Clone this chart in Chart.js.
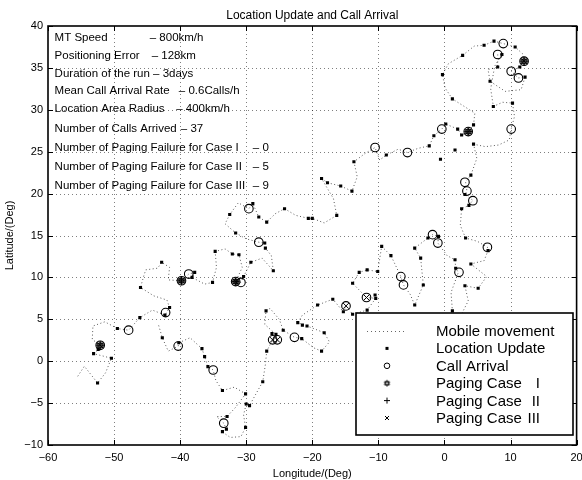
<!DOCTYPE html>
<html><head><meta charset="utf-8">
<script src="https://cdn.jsdelivr.net/npm/chart.js@4/dist/chart.umd.min.js"></script>
<style>html,body{margin:0;padding:0;background:#fff}canvas{display:block}</style>
</head><body>
<canvas id="c" width="582" height="480"></canvas>
<script>
const xTicks=[-60,-50,-40,-30,-20,-10,0,10,20];
const yTicks=[-10,-5,0,5,10,15,20,25,30,35,40];

// Mobile movement path
const moveLon=[-55.5,-54.5,-53.5,-52.5,-51.3,-50.4,-51.6,-53.1,-52.4,-52.1,-53.3,-53.2,-51.4,-49.5,-47.8,-46.1,-44.2,-42.3,-41.6,-42.0,-44.0,-46.0,-45.5,-45.2,-43.4,-42.8,-41.6,-41.8,-39.8,-38.7,-37.8,-38.2,-36.3,-35.1,-34.5,-34.7,-33.2,-32.1,-31.1,-30.6,-31.6,-30.8,-30.4,-29.3,-27.6,-25.9,-26.2,-27.1,-27.2,-28.1,-30.0,-31.6,-33.2,-32.5,-31.2,-29.6,-29.0,-28.1,-26.9,-25.6,-24.2,-22.5,-20.6,-20.0,-18.2,-16.3,-16.8,-18.6,-17.7,-15.7,-14.0,-13.2,-13.7,-12.0,-10.5,-9.8,-8.8,-7.0,-5.6,-4.0,-2.3,-1.6,-0.4,0.2,2.0,2.6,3.6,4.4,4.6,3.0,1.2,0.1,-0.3,0.6,2.75,4.5,6.0,7.5,8.9,10.7,11.8,12.05,11.4,10.1,11.2,12.2,11.6,9.2,6.9,6.6,8.06,8.06,8.7,7.6,7.0,7.4,8.8,10.3,10.6,10.1,9.8,8.2,6.2,4.4,4.9,4.0,3.2,3.4,3.1,4.3,3.7,2.6,2.4,3.2,5.0,6.5,6.6,6.0,4.0,6.4,5.1,3.1,3.6,2.2,1.2,1.0,2.1,1.7,1.6,0.4,-1.0,-0.9,-1.8,-2.5,-4.5,-3.6,-3.2,-4.5,-5.2,-6.2,-6.6,-8.1,-9.5,-10.1,-11.7,-12.9,-13.9,-11.8,-10.4,-11.7,-13.9,-14.9,-15.3,-16.9,-19.2,-21.5,-22.2,-20.8,-18.2,-17.4,-18.6,-19.8,-21.6,-22.7,-24.4,-25.0,-26.4,-27.0,-27.2,-25.5,-25.3,-26.0,-26.9,-27.1,-27.5,-28.6,-29.5,-30.0,-30.4,-30.1,-30.8,-32.4,-33.7,-33.0,-33.4,-34.5,-32.9,-31.6,-30.1,-31.8,-33.6,-34.6,-35.0,-35.8,-36.3,-36.7,-38.5,-40.2,-40.3,-41.8,-42.7,-43.3];
const moveLat=[-1.8,-0.6,-1.6,-2.6,-1.4,0.35,0.6,0.9,1.4,1.9,2.6,4.2,4.7,3.9,3.7,5.2,6.1,5.5,6.4,7.3,7.8,8.8,10.2,10.9,11.1,11.8,11.2,9.7,9.6,10.4,10.6,10.0,9.2,9.4,11.2,13.1,13.4,12.8,12.7,11.2,9.5,9.4,10.1,11.8,12.3,10.8,12.6,13.5,14.1,14.2,14.6,15.3,16.4,17.5,18.9,18.2,18.8,17.2,16.6,17.6,18.2,17.4,17.05,17.05,16.5,17.4,19.4,21.8,21.3,20.9,20.3,22.0,23.8,24.8,25.5,24.0,24.6,25.3,24.9,25.4,25.7,26.9,27.7,28.3,27.7,27.0,27.4,28.2,29.6,30.4,31.3,32.6,34.2,35.5,36.5,37.6,37.7,38.2,37.9,37.5,36.7,35.8,35.1,34.6,33.8,33.9,32.4,32.2,33.4,34.8,35.1,36.6,36.6,35.2,32.5,30.4,30.9,30.8,29.2,27.7,26.4,25.8,25.6,25.9,24.2,22.2,21.4,20.3,19.9,19.2,18.6,18.2,16.2,14.7,14.3,13.6,13.2,12.0,11.6,10.1,8.7,9.0,7.2,5.0,6.0,8.2,10.6,11.1,12.1,12.6,14.1,14.9,15.1,14.7,13.5,12.3,9.1,6.7,8.0,9.1,10.1,12.6,13.7,10.7,10.9,10.6,9.3,7.6,7.5,6.1,5.6,6.6,5.9,7.4,6.7,5.5,4.6,4.2,3.4,2.3,1.2,1.6,2.7,2.85,3.7,5.0,6.3,6.0,4.4,3.2,2.55,2.55,1.2,-0.4,-2.45,-4.0,-5.3,-5.1,-6.4,-7.9,-9.0,-9.1,-8.4,-8.1,-7.4,-6.6,-6.6,-5.5,-3.9,-3.1,-3.5,-2.3,-1.05,-0.65,0.55,1.5,2.8,2.2,1.8,1.2,2.8,4.4];

// Location updates
const updLon=[7.5,6.0,10.7,2.75,8.7,8.06,11.4,6.9,12.2,-0.3,1.2,7.4,10.3,0.2,2.0,2.6,4.4,4.4,1.6,-1.6,-2.3,-0.6,-8.8,-13.7,-18.6,-17.7,-15.7,-14.0,-24.2,-20.6,-20.0,-16.3,4.0,3.1,3.7,2.6,3.2,6.6,4.0,5.1,3.1,-0.9,-2.5,-4.5,-9.5,-8.1,-3.6,1.6,1.7,-3.2,-10.1,-11.7,-12.9,-13.9,-10.5,-10.4,-16.9,-15.3,-13.9,-19.2,-11.7,-4.5,1.2,-22.2,-21.5,-20.8,-24.4,-18.2,-21.6,-18.6,-25.5,-26.1,-29.0,-32.5,-28.1,-26.9,-31.6,-27.2,-27.1,-32.1,-31.1,-34.7,-25.9,-29.3,-30.4,-42.8,-37.8,-38.2,-35.1,-46.0,-41.6,-42.3,-46.1,-49.5,-53.1,-52.4,-50.4,-52.5,-40.2,-42.7,-36.7,-36.3,-35.8,-33.6,-32.9,-33.6,-33.0,-30.1,-30.1,-30.0,-29.5,-27.5,-26.9,-27.0];
const updLat=[38.2,37.7,37.5,36.5,36.6,35.1,35.1,33.4,33.9,34.2,31.3,30.4,30.8,28.3,27.7,27.0,28.2,25.9,25.2,26.9,25.7,24.1,24.6,23.8,21.8,21.3,20.9,20.3,18.2,17.05,17.05,17.4,22.2,19.9,18.6,18.2,14.7,13.2,11.6,8.7,9.0,14.9,14.7,13.5,13.7,12.6,12.3,12.1,11.1,9.1,10.7,10.9,10.6,9.3,7.9,7.5,7.4,5.9,5.6,6.7,6.1,6.7,6.0,4.6,4.3,4.2,3.7,3.4,2.7,1.2,3.2,3.3,18.8,17.5,17.2,16.6,15.3,14.1,13.5,12.8,12.7,13.1,10.8,11.8,10.1,11.8,10.6,10.0,9.4,8.8,6.4,5.5,5.2,3.9,0.9,1.4,0.35,-2.6,2.2,2.8,1.5,0.55,-0.65,-3.5,-6.6,-8.4,-8.1,-7.9,-3.9,-5.1,-5.3,-2.45,1.2,6.0];

// Call arrivals
const callLon=[8.9,8.06,12.05,10.1,11.2,-0.4,3.6,10.1,-10.5,-5.6,3.1,3.4,4.3,-1.8,-1.0,6.5,2.2,-6.6,-6.2,-11.8,-14.9,-22.7,-26.0,-25.3,-29.6,-28.1,-31.6,-30.8,-39.8,-38.7,-42.2,-47.8,-52.1,-40.3,-35.0,-33.4];
const callLat=[37.9,36.6,35.8,34.6,33.8,27.7,27.4,27.7,25.5,24.9,21.35,20.3,19.15,15.1,14.1,13.6,10.6,10.1,9.1,7.6,6.6,2.85,2.55,2.55,18.2,14.2,9.5,9.4,9.6,10.4,5.8,3.7,1.9,1.8,-1.05,-7.4];

// Paging markers
const case1Lon=[12.05,3.6,-31.6,-39.8,-52.1];
const case1Lat=[35.8,27.4,9.5,9.6,1.9];
const case2Lon=[12.05,3.6,-31.6,-39.8,-52.1];
const case2Lat=[35.8,27.4,9.5,9.6,1.9];
const case3Lon=[12.05,3.6,-31.6,-39.8,-52.1,-26.0,-25.3,-11.8,-14.9];
const case3Lat=[35.8,27.4,9.5,9.6,1.9,2.55,2.55,7.6,6.6];

const noteLines=[
 {lat:38.25, parts:[[-59.0,'MT Speed'],[-44.6,'– 800km/h']]},
 {lat:36.06, parts:[[-59.0,'Positioning Error'],[-44.3,'– 128km']]},
 {lat:33.95, parts:[[-59.0,'Duration of the run – 3days']]},
 {lat:31.89, parts:[[-59.0,'Mean Call Arrival Rate'],[-40.2,'– 0.6Calls/h']]},
 {lat:29.77, parts:[[-59.0,'Location Area Radius'],[-40.6,'– 400km/h']]},
 {lat:27.35, parts:[[-59.0,'Number of Calls Arrived'],[-39.9,'– 37']]},
 {lat:25.12, parts:[[-59.0,'Number of Paging Failure for Case I'],[-29.0,'– 0']]},
 {lat:22.82, parts:[[-59.0,'Number of Paging Failure for Case II'],[-29.0,'– 5']]},
 {lat:20.51, parts:[[-59.0,'Number of Paging Failure for Case III'],[-29.0,'– 9']]}
];
const legendLabels=[['Mobile movement',''],['Location Update',''],['Call Arrival',''],['Paging Case','I'],['Paging Case','II'],['Paging Case','III']];

const FONT='"Liberation Sans", Arial, Helvetica, sans-serif';
function pts(a,b){return a.map((v,i)=>({x:v,y:b[i]}));}
function hexagram(r){
  const s=Math.ceil(2*r+3);const c=document.createElement('canvas');c.width=s;c.height=s;
  const g=c.getContext('2d');g.strokeStyle='#000';g.lineWidth=1;const cx=s/2,cy=s/2;
  for(let t=0;t<2;t++){g.beginPath();for(let k=0;k<3;k++){const a=-Math.PI/2+t*Math.PI+k*2*Math.PI/3;const px=cx+r*Math.cos(a),py=cy+r*Math.sin(a);if(k)g.lineTo(px,py);else g.moveTo(px,py);}g.closePath();g.stroke();}
  return c;
}
const hexBig=hexagram(3.8), hexSmall=hexagram(3);

const frame={
 id:'frame',
 beforeDatasetsDraw(chart){
  const {ctx,chartArea:a,scales:{x,y}}=chart;
  ctx.save();ctx.strokeStyle='rgba(0,0,0,0.5)';ctx.lineWidth=1;ctx.setLineDash([1,3]);
  xTicks.slice(1,-1).forEach(v=>{const p=Math.round(x.getPixelForValue(v))+0.5;ctx.beginPath();ctx.moveTo(p,a.top);ctx.lineTo(p,a.bottom);ctx.stroke();});
  yTicks.slice(1,-1).forEach(v=>{const p=Math.round(y.getPixelForValue(v))+0.5;ctx.beginPath();ctx.moveTo(a.left,p);ctx.lineTo(a.right,p);ctx.stroke();});
  ctx.restore();
 },
 afterDatasetsDraw(chart){
  const {ctx,chartArea:a,scales:{x,y}}=chart;
  ctx.save();
  ctx.strokeStyle='#000';ctx.lineWidth=1.6;ctx.setLineDash([]);
  ctx.strokeRect(a.left,a.top,a.right-a.left,a.bottom-a.top);
  ctx.lineWidth=1;
  const TL=5;
  xTicks.forEach(v=>{const p=Math.round(x.getPixelForValue(v))+0.5;ctx.beginPath();ctx.moveTo(p,a.bottom);ctx.lineTo(p,a.bottom-TL);ctx.moveTo(p,a.top);ctx.lineTo(p,a.top+TL);ctx.stroke();});
  yTicks.forEach(v=>{const p=Math.round(y.getPixelForValue(v))+0.5;ctx.beginPath();ctx.moveTo(a.left,p);ctx.lineTo(a.left+TL,p);ctx.moveTo(a.right,p);ctx.lineTo(a.right-TL,p);ctx.stroke();});
  ctx.fillStyle='#000';ctx.font='11.5px '+FONT;ctx.textAlign='left';ctx.textBaseline='alphabetic';
  noteLines.forEach(l=>{const py=y.getPixelForValue(l.lat);l.parts.forEach(([lon,t])=>ctx.fillText(t,x.getPixelForValue(lon),py));});
  const L={l:356,t:313,w:217,h:122};
  ctx.fillStyle='#fff';ctx.fillRect(L.l,L.t,L.w,L.h);
  ctx.strokeStyle='#000';ctx.lineWidth=1.6;ctx.strokeRect(L.l,L.t,L.w,L.h);
  ctx.font='15px '+FONT;ctx.fillStyle='#000';
  const sx=387;
  legendLabels.forEach((lab,i)=>{
    const base=336+i*17.4, cy=base-5;
    ctx.textAlign='left';ctx.fillText(lab[0],436,base);
    if(lab[1]){ctx.textAlign='right';ctx.fillText(lab[1],540,base);}
    ctx.lineWidth=1;ctx.strokeStyle='#000';
    if(i===0){ctx.save();ctx.strokeStyle='rgba(0,0,0,0.6)';ctx.setLineDash([1,3]);ctx.beginPath();ctx.moveTo(367,cy+0.5);ctx.lineTo(405,cy+0.5);ctx.stroke();ctx.restore();}
    if(i===1){ctx.fillRect(sx-1.5,cy-1.5,3,3);}
    if(i===2){ctx.beginPath();ctx.arc(sx,cy,2.8,0,2*Math.PI);ctx.stroke();}
    if(i===3){ctx.drawImage(hexSmall,sx-hexSmall.width/2,cy-hexSmall.height/2);}
    if(i===4){ctx.beginPath();ctx.moveTo(sx-3,cy);ctx.lineTo(sx+3,cy);ctx.moveTo(sx,cy-3);ctx.lineTo(sx,cy+3);ctx.stroke();}
    if(i===5){ctx.beginPath();ctx.moveTo(sx-2,cy-2);ctx.lineTo(sx+2,cy+2);ctx.moveTo(sx+2,cy-2);ctx.lineTo(sx-2,cy+2);ctx.stroke();}
  });
  ctx.fillStyle='#000';ctx.textAlign='center';ctx.textBaseline='alphabetic';
  ctx.font='12px '+FONT;ctx.fillText('Location Update and Call Arrival',(a.left+a.right)/2,18.5);
  ctx.font='11px '+FONT;ctx.fillText('Longitude/(Deg)',(a.left+a.right)/2,477);
  ctx.translate(10,(a.top+a.bottom)/2);ctx.rotate(-Math.PI/2);ctx.textBaseline='middle';ctx.fillText('Latitude/(Deg)',0,0);
  ctx.restore();
 }
};

const tickFont={family:FONT,size:11};
const minus=v=>String(v).replace('-','\u2212');
new Chart(document.getElementById('c'),{
 type:'scatter',
 data:{datasets:[
  {label:'Paging Case III',data:pts(case3Lon,case3Lat),pointStyle:'crossRot',pointRadius:4,borderColor:'#000',borderWidth:1,backgroundColor:'#000'},
  {label:'Paging Case II',data:pts(case2Lon,case2Lat),pointStyle:'cross',pointRadius:4,borderColor:'#000',borderWidth:1,backgroundColor:'#000'},
  {label:'Paging Case I',data:pts(case1Lon,case1Lat),pointStyle:hexBig,pointRadius:4,borderColor:'#000',borderWidth:1},
  {label:'Call Arrival',data:pts(callLon,callLat),pointStyle:'circle',pointRadius:4.3,borderColor:'#000',borderWidth:1.1,backgroundColor:'rgba(0,0,0,0)'},
  {label:'Location Update',data:pts(updLon,updLat),pointStyle:'rect',pointRadius:2.2,borderWidth:0,backgroundColor:'#000',borderColor:'#000'},
  {label:'Mobile movement',data:pts(moveLon,moveLat),showLine:true,pointRadius:0,borderColor:'rgba(0,0,0,0.65)',borderWidth:1,borderDash:[1,2.5],tension:0,fill:false}
 ]},
 options:{
  responsive:false,animation:false,devicePixelRatio:1,
  layout:{padding:{top:26,right:5,left:0,bottom:0}},
  plugins:{legend:{display:false},tooltip:{enabled:false},title:{display:false}},
  scales:{
   x:{type:'linear',min:-60,max:20,
      afterBuildTicks:s=>{s.ticks=xTicks.map(v=>({value:v}));},
      afterFit:s=>{s.height=35;s.paddingLeft=0;s.paddingRight=0;},
      grid:{display:false,drawTicks:false},border:{display:false},
      ticks:{font:tickFont,color:'#000',padding:6,maxRotation:0,autoSkip:false,callback:minus}},
   y:{type:'linear',min:-10,max:40,
      afterBuildTicks:s=>{s.ticks=yTicks.map(v=>({value:v}));},
      afterFit:s=>{s.width=48;s.paddingTop=0;s.paddingBottom=0;},
      grid:{display:false,drawTicks:false},border:{display:false},
      ticks:{font:tickFont,color:'#000',padding:5,autoSkip:false,callback:minus}}
  }
 },
 plugins:[frame]
});
</script>
</body></html>
